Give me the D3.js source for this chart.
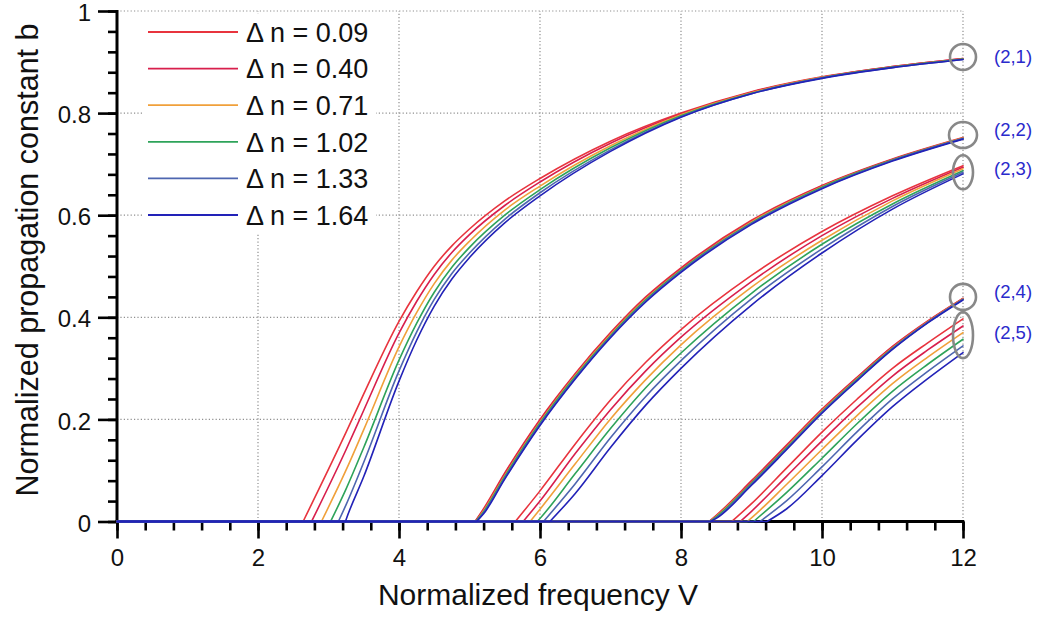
<!DOCTYPE html>
<html><head><meta charset="utf-8">
<script src="https://cdn.jsdelivr.net/npm/d3@7"></script>
<style>
body{margin:0;background:#fff}
svg{display:block}
text{font-family:"Liberation Sans",Arial,Helvetica,sans-serif}
</style>
</head><body>
<svg id="chart" width="1042" height="620"></svg>
<script>
// ---------- data ----------
const deltaN = ["0.09", "0.40", "0.71", "1.02", "1.33", "1.64"];
const modeLabels = ["(2,1)", "(2,2)", "(2,3)", "(2,4)", "(2,5)"];
const xTickValues = [0, 2, 4, 6, 8, 10, 12];
const yTickValues = [0, 0.2, 0.4, 0.6, 0.8, 1];
const yTickLabels = ["0", "0.2", "0.4", "0.6", "0.8", "1"];

// mode (2,1)
const V21 = [3.25, 3.5, 4, 4.25, 4.5, 4.75, 5, 5.5, 6, 7, 8, 9, 10, 11, 12];
const cut21 = [2.64, 2.76, 2.90, 3.03, 3.14, 3.24];
const b21 = [
  [0.175, 0.250, 0.392, 0.450, 0.500, 0.540, 0.573, 0.628, 0.672, 0.745, 0.800, 0.842, 0.871, 0.891, 0.907],
  [0.141, 0.218, 0.369, 0.431, 0.484, 0.527, 0.562, 0.619, 0.665, 0.741, 0.798, 0.841, 0.870, 0.891, 0.907],
  [0.101, 0.180, 0.342, 0.409, 0.466, 0.512, 0.549, 0.610, 0.657, 0.736, 0.797, 0.840, 0.870, 0.890, 0.906],
  [0.064, 0.145, 0.316, 0.388, 0.449, 0.498, 0.537, 0.600, 0.650, 0.732, 0.795, 0.839, 0.869, 0.890, 0.906],
  [0.033, 0.116, 0.295, 0.371, 0.435, 0.486, 0.526, 0.592, 0.644, 0.728, 0.793, 0.838, 0.869, 0.889, 0.905],
  [0.004, 0.088, 0.275, 0.355, 0.422, 0.475, 0.517, 0.585, 0.638, 0.725, 0.792, 0.838, 0.868, 0.889, 0.905]
];

// mode (2,2)
const V22 = [5.2, 5.5, 6, 6.5, 7, 7.5, 8, 9, 10, 11, 12];
const cut22 = [5.08, 5.08, 5.09, 5.09, 5.10, 5.10];
const b22 = [
  [0.025, 0.095, 0.200, 0.290, 0.370, 0.440, 0.497, 0.590, 0.658, 0.710, 0.752],
  [0.023, 0.093, 0.198, 0.288, 0.368, 0.438, 0.495, 0.588, 0.657, 0.709, 0.751],
  [0.021, 0.090, 0.195, 0.286, 0.366, 0.436, 0.493, 0.587, 0.656, 0.708, 0.751],
  [0.019, 0.088, 0.193, 0.284, 0.364, 0.434, 0.492, 0.585, 0.655, 0.708, 0.750],
  [0.017, 0.085, 0.190, 0.281, 0.362, 0.432, 0.490, 0.584, 0.653, 0.707, 0.750],
  [0.015, 0.083, 0.188, 0.279, 0.360, 0.430, 0.488, 0.582, 0.652, 0.706, 0.749]
];

// mode (2,3)
const V23 = [6, 6.5, 7, 7.5, 8, 9, 10, 11, 12];
const cut23 = [5.65, 5.76, 5.86, 5.96, 6.05, 6.14];
const b23 = [
  [0.060, 0.152, 0.238, 0.312, 0.376, 0.482, 0.568, 0.638, 0.697],
  [0.040, 0.133, 0.219, 0.295, 0.361, 0.470, 0.560, 0.633, 0.694],
  [0.024, 0.113, 0.201, 0.278, 0.346, 0.459, 0.551, 0.628, 0.691],
  [0.006, 0.094, 0.182, 0.262, 0.330, 0.447, 0.543, 0.622, 0.687],
  [0.000, 0.074, 0.164, 0.245, 0.315, 0.436, 0.534, 0.617, 0.684],
  [0.000, 0.055, 0.145, 0.228, 0.300, 0.424, 0.526, 0.612, 0.681]
];

// mode (2,4)
const V24 = [8.5, 9, 9.5, 10, 10.5, 11, 11.5, 12];
const cut24 = [8.40, 8.40, 8.41, 8.41, 8.42, 8.42];
const b24 = [
  [0.012, 0.080, 0.150, 0.220, 0.283, 0.343, 0.393, 0.437],
  [0.011, 0.078, 0.148, 0.218, 0.282, 0.342, 0.392, 0.437],
  [0.010, 0.076, 0.146, 0.217, 0.280, 0.340, 0.391, 0.436],
  [0.009, 0.075, 0.145, 0.215, 0.279, 0.339, 0.390, 0.435],
  [0.007, 0.073, 0.143, 0.214, 0.277, 0.338, 0.390, 0.435],
  [0.006, 0.071, 0.141, 0.212, 0.276, 0.337, 0.389, 0.434]
];

// mode (2,5)
const V25 = [9, 9.5, 10, 10.5, 11, 11.5, 12];
const cut25 = [8.72, 8.84, 8.94, 9.03, 9.12, 9.22];
const b25 = [
  [0.035, 0.105, 0.175, 0.240, 0.300, 0.350, 0.397],
  [0.020, 0.089, 0.158, 0.224, 0.285, 0.336, 0.383],
  [0.007, 0.073, 0.141, 0.208, 0.270, 0.322, 0.370],
  [0.000, 0.057, 0.124, 0.192, 0.255, 0.308, 0.357],
  [0.000, 0.041, 0.107, 0.176, 0.240, 0.294, 0.344],
  [0.000, 0.025, 0.090, 0.160, 0.225, 0.280, 0.331]
];

// annotation anchors (V, b) at the end of each mode family
const annoV = [12, 12, 12, 12, 12];
const annoB = [0.910, 0.757, 0.684, 0.440, 0.365];
const labelB = [0.910, 0.767, 0.692, 0.450, 0.371];

// ---------- styles / layout ----------
const colors = ["#e8343e", "#d81f4c", "#f0a03a", "#2ea35a", "#4e66b0", "#2222b8"];
const ellipseR = [[13, 13], [14, 13], [10, 17], [13, 13], [10, 23]];

const modes = [
  {V: V21, cut: cut21, b: b21},
  {V: V22, cut: cut22, b: b22},
  {V: V23, cut: cut23, b: b23},
  {V: V24, cut: cut24, b: b24},
  {V: V25, cut: cut25, b: b25}
];

const svg = d3.select("#chart");
const x = d3.scaleLinear().domain([0, 12]).range([117, 963]);
const y = d3.scaleLinear().domain([0, 1]).range([521.5, 11]);

// grid
const grid = svg.append("g").attr("stroke", "#8f8f8f").attr("stroke-width", 1.2)
  .attr("stroke-dasharray", "1.2,2.2");
xTickValues.filter(v => v > 0).forEach(v => {
  grid.append("line").attr("x1", x(v)).attr("x2", x(v)).attr("y1", y(0)).attr("y2", y(1));
});
yTickValues.filter(v => v > 0).forEach(v => {
  grid.append("line").attr("x1", x(0)).attr("x2", x(12)).attr("y1", y(v)).attr("y2", y(v));
});

// legend background (hides grid)
svg.append("rect").attr("x", 142).attr("y", 14).attr("width", 234).attr("height", 219).attr("fill", "#fff");

// axes
const xMinor = d3.range(0, 12.001, 0.4);
const yMinor = d3.range(0, 1.0001, 0.04);
const xAxisMinor = d3.axisBottom(x).tickValues(xMinor).tickSize(9).tickFormat("");
const xAxisMajor = d3.axisBottom(x).tickValues(xTickValues).tickSize(17).tickFormat(d3.format("d")).tickPadding(10);
const yAxisMinor = d3.axisLeft(y).tickValues(yMinor).tickSize(9).tickFormat("");
const yAxisMajor = d3.axisLeft(y).tickValues(yTickValues).tickSize(19).tickPadding(7)
  .tickFormat((d, i) => yTickLabels[i]);

function styleAxis(g) {
  g.select(".domain").remove();
  g.selectAll(".tick line").attr("stroke", "#000").attr("stroke-width", 2.6);
  g.selectAll(".tick text").attr("fill", "#111").attr("font-size", 24)
    .attr("font-family", "'Liberation Sans', Arial, sans-serif");
}
svg.append("g").attr("transform", `translate(0,${y(0)})`).call(xAxisMinor).call(styleAxis);
svg.append("g").attr("transform", `translate(0,${y(0)})`).call(xAxisMajor).call(styleAxis);
svg.append("g").attr("transform", `translate(${x(0)},0)`).call(yAxisMinor).call(styleAxis);
svg.append("g").attr("transform", `translate(${x(0)},0)`).call(yAxisMajor).call(styleAxis)
  .selectAll(".tick text").attr("dy", "0.4em");

svg.append("line").attr("x1", x(0) - 1.5).attr("x2", x(12) + 1.3).attr("y1", y(0)).attr("y2", y(0))
  .attr("stroke", "#000").attr("stroke-width", 3);
svg.append("line").attr("x1", x(0)).attr("x2", x(0)).attr("y1", y(0) + 1.5).attr("y2", y(1) - 1)
  .attr("stroke", "#000").attr("stroke-width", 3);

// curves
const lineFlat = d3.line().x(d => x(d[0])).y(d => y(d[1]));
const lineCurve = d3.line().x(d => x(d[0])).y(d => y(d[1])).curve(d3.curveMonotoneX);
const curves = svg.append("g").attr("fill", "none").attr("stroke-width", 1.6)
  .attr("stroke-linejoin", "round").attr("stroke-linecap", "round");
deltaN.forEach((dn, s) => {
  modes.forEach(m => {
    const c = m.cut[s];
    const pts = [[c, 0]];
    m.V.forEach((v, i) => { if (v > c) pts.push([v, m.b[s][i]]); });
    curves.append("path").attr("stroke", colors[s])
      .attr("d", lineFlat([[0, 0], [c, 0]]) + lineCurve(pts));
  });
});

// annotations
modeLabels.forEach((lab, i) => {
  svg.append("ellipse").attr("cx", x(annoV[i])).attr("cy", y(annoB[i]))
    .attr("rx", ellipseR[i][0]).attr("ry", ellipseR[i][1])
    .attr("fill", "none").attr("stroke", "#888").attr("stroke-width", 2.6);
  svg.append("text").attr("x", x(annoV[i]) + 31).attr("y", y(labelB[i]))
    .attr("dy", "0.35em").attr("font-size", 18.5).attr("fill", "#2a2acc").text(lab);
});

// legend
deltaN.forEach((dn, i) => {
  const ly = 32 + i * 36.6;
  svg.append("line").attr("x1", 148).attr("x2", 238).attr("y1", ly).attr("y2", ly)
    .attr("stroke", colors[i]).attr("stroke-width", 1.8);
  svg.append("text").attr("x", 246).attr("y", ly).attr("dy", "0.36em")
    .attr("font-size", 27).attr("fill", "#111").text("\u0394 n = " + dn);
});

// axis titles
svg.append("text").attr("x", 538).attr("y", 605).attr("text-anchor", "middle")
  .attr("font-size", 30).attr("fill", "#111").text("Normalized frequency V");
svg.append("text").attr("transform", "translate(38,260) rotate(-90)").attr("text-anchor", "middle")
  .attr("font-size", 30.5).attr("fill", "#111").text("Normalized propagation constant b");
</script>
</body></html>
